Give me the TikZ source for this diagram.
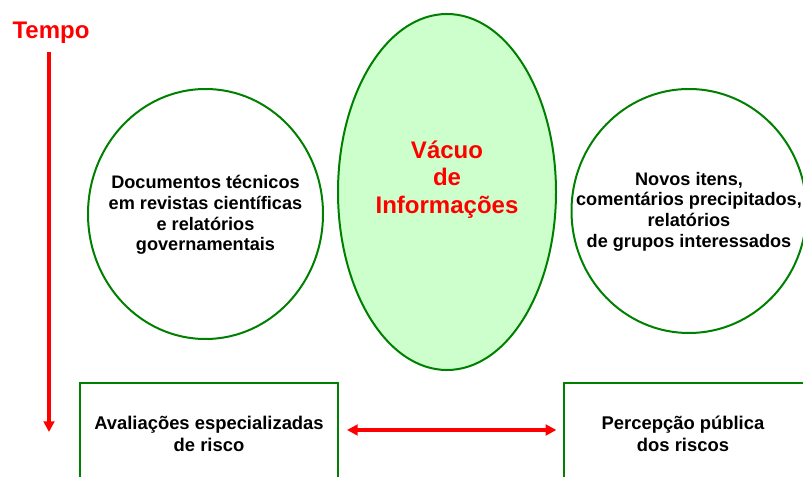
\documentclass[tikz,border=0pt]{standalone}
\usepackage{fontspec}
\setmainfont{Liberation Sans}
\usetikzlibrary{arrows.meta,shapes.geometric}
\definecolor{rimgreen}{RGB}{0,128,0}
\definecolor{vacuumgreen}{RGB}{204,255,204}
\definecolor{timered}{RGB}{255,0,0}

\begin{document}
\begin{tikzpicture}[x=0.75pt,y=0.75pt,yscale=-1,xscale=1,
  bubble/.style={draw=rimgreen,line width=1.5pt,ellipse,inner sep=0pt},
  bubbletext/.style={align=center,inner sep=0pt,font=\fontsize{13.6}{15.5}\selectfont\bfseries},
  riskbox/.style={draw=rimgreen,line width=1.5pt,rectangle,inner sep=0pt,align=center,
    minimum height=76.5pt,font=\fontsize{13.8}{16.5}\selectfont\bfseries},
  redarrow/.style={timered,line width=3pt},
  redtip/.tip={Triangle[length=8pt,width=8pt]}]
\useasboundingbox (0,0) rectangle (803,477);
\clip (0,0) rectangle (803,477);
% tempo
\draw (51,33) node [timered,font=\fontsize{18}{20}\selectfont\bfseries] (tempo) {Tempo};
\coordinate (tempotop) at (49,52);
\coordinate (tempoend) at (49,432);
\draw [redarrow,-redtip] (tempotop) -- (tempoend);
% bubbles
\draw (205.5,214) node [bubble,minimum width=176.25pt,minimum height=187.5pt] (docs) {};
\draw (205.5,215) node [bubbletext] (docstext) {Documentos técnicos\\em revistas científicas\\e relatórios\\governamentais};
\draw (447,192) node [bubble,fill=vacuumgreen,minimum width=163.5pt,minimum height=267pt] (vacuum) {};
\draw (447,179.5) node [timered,align=center,inner sep=0pt,font=\fontsize{18}{20.6}\selectfont\bfseries] (vacuumtext) {Vácuo\\de\\Informações};
\draw (689,211) node [bubble,minimum width=176.25pt,minimum height=183pt] (news) {};
\draw (689,211.5) node [bubbletext] (newstext) {Novos itens,\\comentários precipitados,\\relatórios\\de grupos interessados};
% boxes
\draw (209,434) node [riskbox,minimum width=193.5pt] (expert) {Avaliações especializadas\\de risco};
\draw (693,434) node [riskbox,minimum width=193.5pt] (public) {};
\draw (683,434) node [riskbox,draw=none,minimum height=0pt] (publictext) {Percepção pública\\dos riscos};
\draw [redarrow,redtip-redtip,shorten <=6pt,shorten >=5pt] ([yshift=-3pt]expert.east) -- ([yshift=-3pt]public.west);
\end{tikzpicture}
\end{document}
